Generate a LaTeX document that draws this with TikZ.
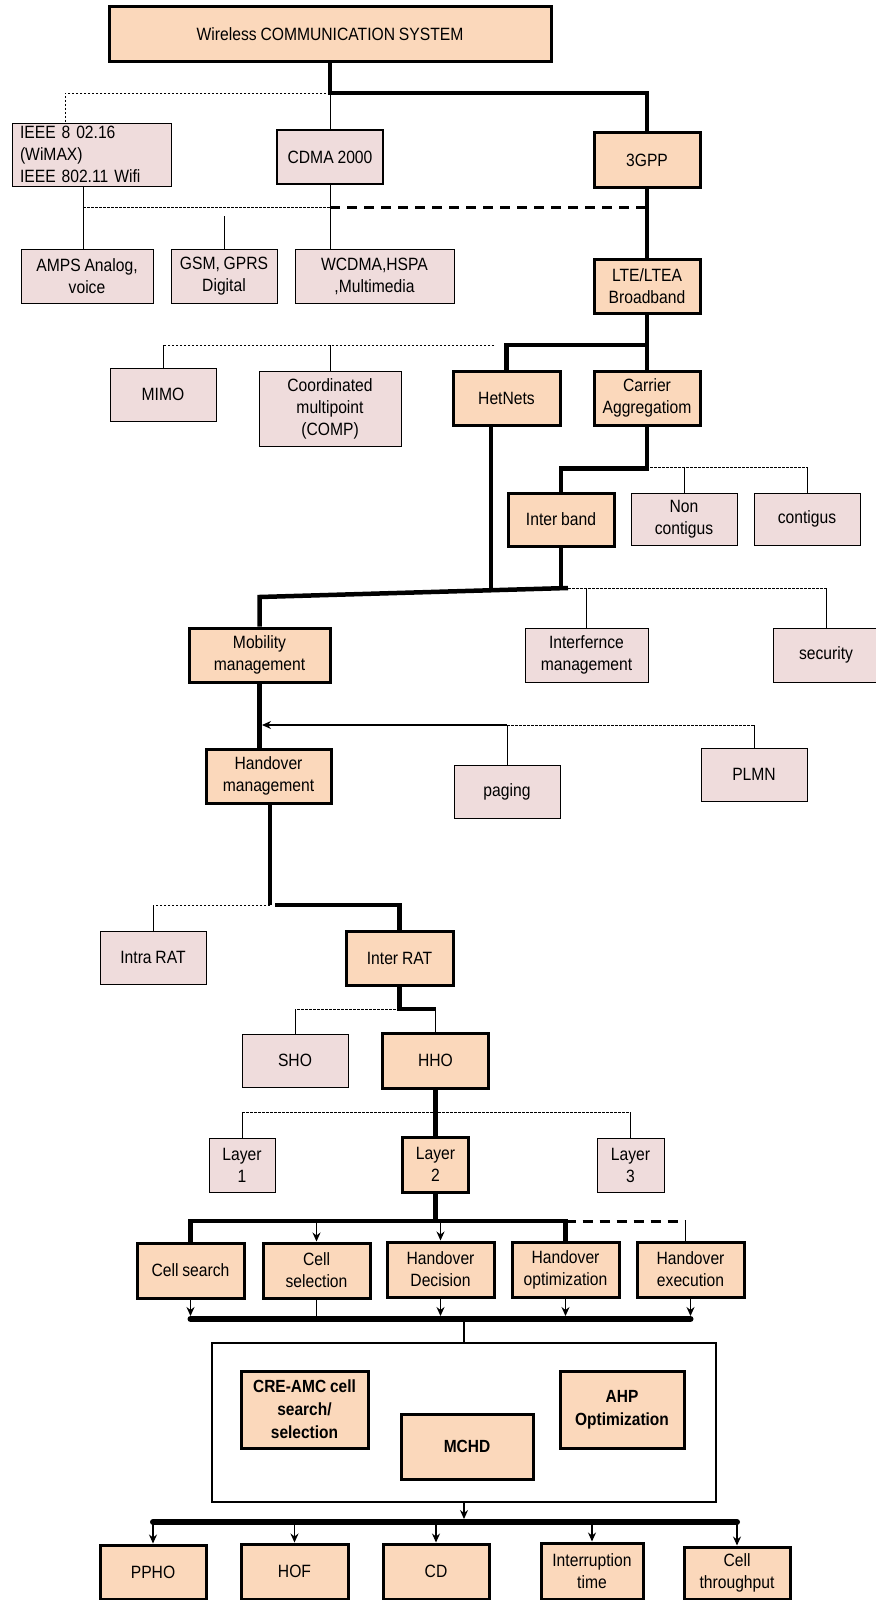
\documentclass[tikz,border=0pt]{standalone}
\usepackage{fontspec}
\setmainfont[FakeStretch=0.88, WordSpace=0.88]{Liberation Sans}
\usetikzlibrary{arrows.meta}
\definecolor{peach}{RGB}{251,216,187}
\definecolor{rose}{RGB}{239,220,220}
\tikzset{
    box/.style={draw, rectangle, align=center, inner sep=2pt, font=\fontsize{17.8}{22}\selectfont},
    mainbox/.style={box, fill=peach, line width=3pt},
    sidebox/.style={box, fill=rose, line width=0.9pt},
    boldbox/.style={mainbox, font=\fontsize{17.6}{23}\selectfont\bfseries},
    bus/.style={line width=4.5pt},
    widebus/.style={line width=6pt, line cap=round},
    thinline/.style={line width=0.9pt},
    dotline/.style={line width=0.9pt, dash pattern=on 2.5pt off 1.5pt},
    busdash/.style={line width=3pt, dash pattern=on 10pt off 7pt},
    arrowline/.style={line width=1.2pt, -{Stealth[length=9pt,width=8pt]}},
}

\begin{document}
\begin{tikzpicture}[x=1pt, y=-1pt]
        \path[use as bounding box, fill=white] (0,0) rectangle (875,1600);

        \node[mainbox, minimum width=442pt, minimum height=55pt] (wcs) at (330,34.5) {Wireless COMMUNICATION SYSTEM};
        \node[sidebox, minimum width=159pt, minimum height=63pt, text width=143pt, align=left] (ieee) at (91.5,154.5) {IEEE 8 02.16\\(WiMAX)\\IEEE 802.11 Wifi};
        \node[sidebox, line width=1.6pt, minimum width=106pt, minimum height=54pt] (cdma) at (330,157) {CDMA 2000};
        \node[mainbox, minimum width=106pt, minimum height=54pt] (tgpp) at (647,160) {3GPP};
        \node[sidebox, minimum width=132pt, minimum height=54pt] (amps) at (87,276) {AMPS Analog,\\voice};
        \node[sidebox, minimum width=106pt, minimum height=54pt] (gsm) at (224,276) {GSM, GPRS\\Digital};
        \node[sidebox, minimum width=159pt, minimum height=54pt] (wcdma) at (374.5,276) {WCDMA,HSPA\\,Multimedia};
        \node[mainbox, minimum width=106pt, minimum height=54pt] (lte) at (647,286) {LTE/LTEA\\Broadband};

        \node[sidebox, minimum width=106pt, minimum height=53pt] (mimo) at (163,394.5) {MIMO};
        \node[sidebox, minimum width=142pt, minimum height=75pt] (comp) at (330,408.5) {Coordinated\\multipoint\\(COMP)};
        \node[mainbox, minimum width=107pt, minimum height=54pt] (hetnets) at (506.5,398) {HetNets};
        \node[mainbox, minimum width=106pt, minimum height=54pt] (carrier) at (647,398) {Carrier\\Aggregatiom};
        \node[mainbox, minimum width=106pt, minimum height=53pt] (interband) at (561,519.5) {Inter band};
        \node[sidebox, minimum width=106pt, minimum height=52pt] (noncont) at (684,519) {Non\\contigus};
        \node[sidebox, minimum width=106pt, minimum height=52pt] (contig) at (807,519) {contigus};

        \node[mainbox, minimum width=141pt, minimum height=54pt] (mobility) at (259.5,655) {Mobility\\management};
        \node[sidebox, minimum width=123pt, minimum height=54pt] (interf) at (586.5,655) {Interfernce\\management};
        \node[sidebox, minimum width=106pt, minimum height=54pt] (security) at (826,655) {security};
        \node[mainbox, minimum width=125pt, minimum height=54pt] (hom) at (268.5,776) {Handover\\management};
        \node[sidebox, minimum width=106pt, minimum height=53pt] (paging) at (507,791.5) {paging};
        \node[sidebox, minimum width=106pt, minimum height=53pt] (plmn) at (754,774.5) {PLMN};

        \node[sidebox, minimum width=106pt, minimum height=53pt] (intrarat) at (153,957.5) {Intra RAT};
        \node[mainbox, minimum width=107pt, minimum height=54pt] (interrat) at (399.5,958) {Inter RAT};
        \node[sidebox, minimum width=106pt, minimum height=53pt] (sho) at (295,1060.5) {SHO};
        \node[mainbox, minimum width=106pt, minimum height=55pt] (hho) at (435.5,1060.5) {HHO};
        \node[sidebox, minimum width=66pt, minimum height=54pt] (layer1) at (242,1165) {Layer\\1};
        \node[mainbox, minimum width=66pt, minimum height=55pt] (layer2) at (435.5,1164.5) {Layer\\2};
        \node[sidebox, minimum width=67pt, minimum height=54pt] (layer3) at (630.5,1165) {Layer\\3};

        \node[mainbox, minimum width=107pt, minimum height=55pt] (cellsearch) at (190.5,1270.5) {Cell search};
        \node[mainbox, minimum width=107pt, minimum height=55pt] (cellsel) at (316.5,1270.5) {Cell\\selection};
        \node[mainbox, minimum width=107pt, minimum height=55pt] (hodec) at (440.5,1269.5) {Handover\\Decision};
        \node[mainbox, minimum width=107pt, minimum height=55pt] (hoopt) at (565.5,1269.5) {Handover\\optimization};
        \node[mainbox, minimum width=107pt, minimum height=55pt] (hoexe) at (690.5,1269.5) {Handover\\execution};

        \node[draw, line width=2pt, fill=white, minimum width=504pt, minimum height=159pt] (bigbox) at (464,1422.5) {};
        \node[boldbox, minimum width=127pt, minimum height=77pt] (creamc) at (304.5,1409.5) {CRE-AMC cell\\search/\\selection};
        \node[boldbox, minimum width=132pt, minimum height=65pt] (mchd) at (467,1446.5) {MCHD};
        \node[boldbox, minimum width=124pt, minimum height=77pt] (ahp) at (622,1409.5) {AHP\\Optimization};

        \node[mainbox, minimum width=106pt, minimum height=54pt] (ppho) at (153,1572) {PPHO};
        \node[mainbox, minimum width=107pt, minimum height=55pt] (hof) at (294.5,1571.5) {HOF};
        \node[mainbox, minimum width=106pt, minimum height=55pt] (cd) at (436,1571.5) {CD};
        \node[mainbox, minimum width=102pt, minimum height=56pt] (interr) at (592,1571) {Interruption\\time};
        \node[mainbox, minimum width=106pt, minimum height=52pt] (cellthr) at (737,1573) {Cell\\throughput};

        \coordinate (j1) at (330,93);
        \draw[bus] (wcs.south) -- (j1) -| (tgpp.north);
        \draw[dotline] (j1) -| ([xshift=-26.5pt]ieee.north);
        \draw[thinline] (j1) -- (cdma.north);
        \draw[thinline] (cdma.south) -- (cdma.south |- wcdma.north);
        \draw[thinline] ([xshift=-8.5pt]ieee.south) -- ([xshift=-8.5pt]ieee.south |- amps.north);
        \coordinate (j2) at (83,207);
        \draw[dotline] (j2) -- (j2 -| cdma.south);
        \draw[busdash] (j2 -| cdma.south) -- (j2 -| tgpp.south);
        \draw[thinline] (gsm.north) -- ([yshift=33pt]gsm.north);
        \draw[bus] (tgpp.south) -- (lte.north);
        \draw[bus] (lte.south) -- (carrier.north);

        \coordinate (j3) at (647,345);
        \coordinate (j4) at (494,345);
        \draw[bus] (j3) -| (hetnets.north);
        \draw[dotline] (j4) -- (j4 -| mimo.north);
        \draw[thinline] (j4 -| mimo.north) -- (mimo.north);
        \draw[thinline] (j4 -| comp.north) -- (comp.north);
        \draw[bus] (carrier.south) -- ++(0,42) -| (interband.north);
        \coordinate (j5) at (650,467);
        \draw[dotline] (j5) -- (j5 -| contig.north);
        \draw[thinline] (j5 -| noncont.north) -- (noncont.north);
        \draw[thinline] (j5 -| contig.north) -- (contig.north);

        \coordinate (j6) at (568,588);
        \coordinate (j7) at (259.5,597);
        \coordinate (j8) at (491,591);
        \draw[bus] ([xshift=-15.5pt]hetnets.south) -- (j8);
        \draw[bus] (interband.south) -- (interband.south |- j6);
        \draw[bus] (j6) -- (j7) -- (mobility.north);
        \draw[dotline] (j6) -- (j6 -| security.north);
        \draw[thinline] (j6 -| interf.north) -- (interf.north);
        \draw[thinline] (j6 -| security.north) -- (security.north);

        \draw[bus] (mobility.south) -- (mobility.south |- hom.north);
        \coordinate (j9) at (507,725);
        \draw[arrowline] (j9) -- ([xshift=2.5pt]j9 -| mobility.south);
        \draw[dotline] (j9) -- (j9 -| plmn.north);
        \draw[thinline] (j9) -- (paging.north);
        \draw[thinline] (j9 -| plmn.north) -- (plmn.north);

        \coordinate (j10) at (270,905);
        \draw[bus] ([xshift=1.5pt]hom.south) -- (j10);
        \draw[bus] ([xshift=5pt]j10) -| (interrat.north);
        \draw[dotline] (j10) -- (j10 -| intrarat.north);
        \draw[thinline] (j10 -| intrarat.north) -- (intrarat.north);
        \coordinate (j11) at (399.5,1009);
        \draw[bus] (interrat.south) -- (j11) -- (j11 -| hho.north);
        \draw[thinline] (j11 -| hho.north) -- (hho.north);
        \draw[dotline] (j11) -- (j11 -| sho.north);
        \draw[thinline] (j11 -| sho.north) -- (sho.north);
        \draw[bus] (hho.south) -- (layer2.north);
        \coordinate (j12) at (435.5,1112);
        \draw[dotline] (j12 -| layer1.north) -- (j12 -| layer3.north);
        \draw[thinline] (j12 -| layer1.north) -- (layer1.north);
        \draw[thinline] (j12 -| layer3.north) -- (layer3.north);

        \coordinate (j13) at (435.5,1221);
        \draw[bus] (layer2.south) -- (j13);
        \draw[bus] (cellsearch.north) |- (j13 -| hoopt.north) -- (hoopt.north);
        \draw[busdash] (j13 -| hoopt.north) -- ([xshift=-5.5pt]j13 -| hoexe.north);
        \draw[thinline] ([xshift=-5.5pt]j13 -| hoexe.north) -- ([xshift=-5.5pt]hoexe.north);
        \draw[arrowline] (j13 -| cellsel.north) -- (cellsel.north);
        \draw[arrowline] (j13 -| hodec.north) -- (hodec.north);

        \coordinate (j14) at (464,1319);
        \foreach \b in {cellsearch,hodec,hoopt,hoexe}
            \draw[arrowline] (\b.south) -- ([yshift=3pt]j14 -| \b.south);
        \draw[thinline] (cellsel.south) -- (j14 -| cellsel.south);
        \draw[widebus] (j14 -| cellsearch.south) -- (j14 -| hoexe.south);
        \draw[line width=2pt] (j14) -- (bigbox.north);
        \coordinate (j15) at (464,1522);
        \draw[arrowline] (bigbox.south) -- ([yshift=3pt]j15);
        \draw[widebus] (j15 -| ppho.north) -- (j15 -| cellthr.north);
        \foreach \b in {ppho,hof,cd,interr,cellthr}
            \draw[arrowline] (j15 -| \b.north) -- (\b.north);
\end{tikzpicture}
\end{document}
